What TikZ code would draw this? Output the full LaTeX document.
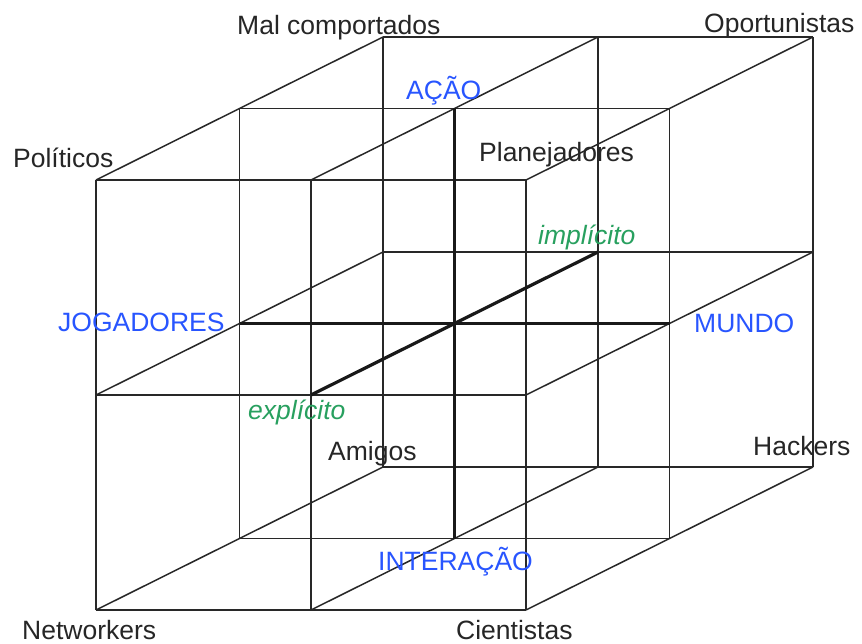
\documentclass[tikz,border=0pt]{standalone}
\usepackage{fontspec}
\setmainfont{Liberation Sans}
\definecolor{axblue}{RGB}{40,85,255}
\definecolor{axgreen}{RGB}{40,160,95}
\definecolor{gridc}{RGB}{40,40,40}
\begin{document}
\begin{tikzpicture}[x=1pt,y=-1pt,
  gridline/.style={draw=gridc,line width=1.5pt},
  axisline/.style={draw=black!90,line width=3.2pt},
  lbl/.style={anchor=base west,inner sep=0pt,font=\fontsize{26.5}{30}\selectfont,text=black!85},
  bluelbl/.style={lbl,text=axblue},
  greenlbl/.style={lbl,text=axgreen,font=\fontsize{26.5}{30}\selectfont\itshape}]
\useasboundingbox[fill=white] (0,0) rectangle (862,644);
\foreach \i in {0,1,2}{
  \foreach \j in {0,1,2}{
    \foreach \k in {0,1,2}{
      \coordinate (p\i\j\k) at ({96+215*\i+143.5*\k},{610-215*\j-71.5*\k});
    }
  }
}
\foreach \a in {0,1,2}{
  \foreach \b in {0,1,2}{
    \draw[gridline] (p0\a\b) -- (p2\a\b);
    \draw[gridline] (p\a0\b) -- (p\a2\b);
    \draw[gridline] (p\a\b0) -- (p\a\b2);
  }
}
\draw[axisline] (p011) -- (p211);
\draw[axisline] (p101) -- (p121);
\draw[axisline] (p110) -- (p112);
\node[lbl] (mal) at (237,35) {Mal comportados};
\node[lbl] (opo) at (704,33) {Oportunistas};
\node[lbl] (pol) at (13,168) {Políticos};
\node[lbl] (pla) at (479,162) {Planejadores};
\node[greenlbl] (imp) at (538,245) {implícito};
\node[bluelbl] (jog) at (58,331) {JOGADORES};
\node[bluelbl] (mun) at (694,332) {MUNDO};
\node[bluelbl] (aca) at (406,100) {AÇÃO};
\node[greenlbl] (exp) at (248,419) {explícito};
\node[lbl] (ami) at (328,460) {Amigos};
\node[lbl] (hac) at (753,455) {Hackers};
\node[bluelbl] (int) at (378,570) {INTERAÇÃO};
\node[lbl] (net) at (22,639) {Networkers};
\node[lbl] (cie) at (456,639) {Cientistas};
\end{tikzpicture}
\end{document}
